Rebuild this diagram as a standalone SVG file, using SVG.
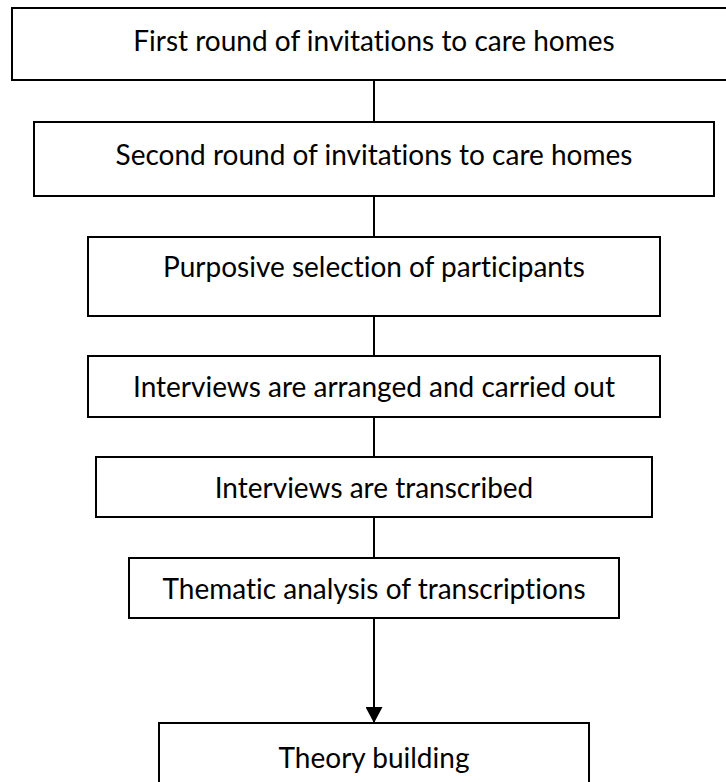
<svg xmlns="http://www.w3.org/2000/svg" width="726" height="782" viewBox="0 0 726 782">
  <style>
    .box { fill: #ffffff; stroke: #000000; stroke-width: 2; }
    .lbl { font-family: Lato, "Liberation Sans", sans-serif; font-size: 28px; fill: #000000; text-anchor: middle; font-variant-ligatures: none; font-feature-settings: "liga" 0, "clig" 0; }
    .link { stroke: #000000; stroke-width: 2; fill: none; }
  </style>
  <defs>
    <marker id="arrowBig" markerWidth="16" markerHeight="17" refX="16" refY="8.5" orient="auto" markerUnits="userSpaceOnUse" viewBox="0 0 16 17">
      <path d="M0,0 L16,8.5 L0,17 Z" fill="#000000"/>
    </marker>
  </defs>
  <rect width="726" height="782" fill="#ffffff"/>

  <!-- connectors between the steps -->
  <g id="connectors">
    <line class="link" x1="374" y1="80" x2="374" y2="122"/>
    <line class="link" x1="374" y1="196" x2="374" y2="237"/>
    <line class="link" x1="374" y1="316" x2="374" y2="356"/>
    <line class="link" x1="374" y1="417" x2="374" y2="457"/>
    <line class="link" x1="374" y1="517" x2="374" y2="558"/>
    <line class="link" x1="374" y1="618" x2="374" y2="723" marker-end="url(#arrowBig)"/>
  </g>

  <g id="step1">
    <rect class="box" x="12" y="8" width="730" height="72"/>
    <text class="lbl" x="374" y="51">First round of invitations to care homes</text>
  </g>
  <g id="step2">
    <rect class="box" x="34" y="122" width="680" height="74"/>
    <text class="lbl" x="374" y="165">Second round of invitations to care homes</text>
  </g>
  <g id="step3">
    <rect class="box" x="88" y="237" width="572" height="79"/>
    <text class="lbl" x="374" y="277">Purposive selection of participants</text>
  </g>
  <g id="step4">
    <rect class="box" x="88" y="356" width="572" height="61"/>
    <text class="lbl" x="374" y="397">Interviews are arranged and carried out</text>
  </g>
  <g id="step5">
    <rect class="box" x="96" y="457" width="556" height="60"/>
    <text class="lbl" x="374" y="498">Interviews are transcribed</text>
  </g>
  <g id="step6">
    <rect class="box" x="129" y="558" width="490" height="60"/>
    <text class="lbl" x="374" y="599">Thematic analysis of transcriptions</text>
  </g>
  <g id="step7">
    <rect class="box" x="159" y="723" width="430" height="80"/>
    <text class="lbl" x="374" y="768">Theory building</text>
  </g>
</svg>
